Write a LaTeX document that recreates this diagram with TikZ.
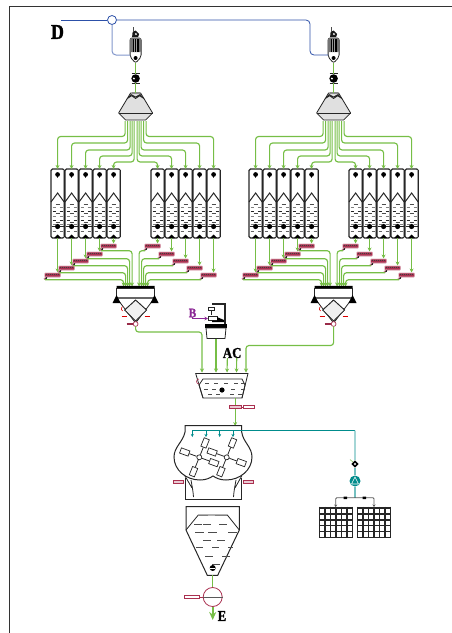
\documentclass[tikz,border=0pt]{standalone}
\usepackage{fontspec}
\newfontfamily\tagfont[FakeStretch=0.85,FakeBold=1.4]{Liberation Serif}
\usetikzlibrary{arrows.meta}
\definecolor{feedgreen}{RGB}{118,190,70}
\definecolor{trapred}{RGB}{170,48,80}
\definecolor{wash}{RGB}{0,140,140}
\definecolor{airblue}{RGB}{44,80,168}
\definecolor{reagent}{RGB}{140,40,150}
\tikzset{
  feed/.style={draw=feedgreen,line width=1.15pt,rounded corners=3pt},
  feedtip/.style={feed,-{Stealth[length=4pt,width=4pt]}},
  washline/.style={draw=wash,line width=1pt},
  washtip/.style={washline,-{Stealth[length=3pt,width=3pt]}},
  vessel/.style={draw=black!85,line width=0.8pt},
  liquid/.style={draw=black!70,line width=0.8pt},
  redbox/.style={draw=trapred,fill=trapred!25,line width=0.7pt,inner sep=0pt},
  paddle/.style={draw=black!85,fill=white,line width=0.7pt,minimum width=9pt,minimum height=5.5pt,inner sep=0pt},
  hub/.style={draw=black!85,fill=white,circle,minimum size=5pt,inner sep=0pt,line width=0.7pt},
  tag/.style={font=\tagfont\bfseries\fontsize{15}{15}\selectfont,inner sep=0pt},
  drum/.pic={
    \draw[vessel,line width=1.3pt,rounded corners=1.5pt] (-6.6,0) rectangle (6.6,69);
    \draw[black!35,line width=0.7pt] (5.3,1) -- (5.3,68);
    \draw[black!70,line width=0.5pt] (0,5.5) -- (0,9);
    \fill (0,5.5) circle (2.4);
    \draw[vessel,line width=1pt] (-6.6,33) -- (0,24) -- (6.6,33);
    \foreach \y/\c in {38/50,42/85,47/50,51/85,55/50,62/60}
      \draw[black!\c,line width=0.8pt] (-5,\y) -- (-2,\y) (2,\y) -- (5,\y);
    \draw[black!70,line width=0.8pt] (-2,35) -- (2,35) (-2,44.5) -- (2,44.5) (-2,53) -- (2,53);
    \draw[black!85,line width=0.8pt] (-6,57.5) -- (6,57.5);
    \fill (0,57.5) circle (2.6);
    \fill (-3.5,69) -- (0,65.5) -- (3.5,69) -- cycle;
    \coordinate (-top) at (0,0);
    \coordinate (-bottom) at (0,69);
  },
  trap/.pic={
    \fill[trapred!40,rounded corners=1pt] (-13.2,-2.5) rectangle (3.2,2.5);
    \fill[trapred,rounded corners=0.6pt] (-12.5,-1.7) rectangle (2.5,1.7);
    \foreach \x in {-11,-9,...,1} \draw[black!75,line width=0.4pt] (\x,-1.4) -- (\x,0.4);
    \draw[trapred!60,line width=1.8pt] (-10.5,1.9) -- (-13.5,4.2);
    \fill[black!85] (-10.8,1.8) -- (-13,4.4) -- (-10.8,3.8) -- cycle;
    \coordinate (-in) at (0,-2.5);
    \coordinate (-out) at (-12.5,4.7);
  },
  spinner/.pic={
    \draw[vessel,fill=white,rounded corners=2pt] (-5.5,11) -- (-5.5,30) -- (0,36) -- (5.5,30) -- (5.5,11) -- cycle;
    \fill[black!55,rounded corners=1pt] (-5.5,11) rectangle (5.5,25);
    \fill[black] (-3,12) rectangle (3,25);
    \draw[black!40,line width=0.6pt] (-1,12) -- (-1,25) (1,12) -- (1,25);
    \fill[black!90] (-3.5,10) -- (-3,5) -- (0,3.5) -- (3.5,7) -- (2.5,10) -- cycle;
    \fill[white] (0.3,7) circle (1.1);
    \draw[black!70,line width=0.7pt] (-1.8,0) -- (-1.8,5);
    \fill (0,31) circle (2);
    \coordinate (-feedin) at (-5.5,28);
    \coordinate (-out) at (0,36);
  },
  splitter/.pic={
    \draw[vessel,fill=black!12,line join=round] (-5,0) -- (5,0) -- (17,20) -- (10,27) -- (-10,27) -- (-17,20) -- cycle;
    \draw[vessel] (-17,20) -- (17,20);
    \draw[vessel,fill=white] (-7.5,5) -- (-4.5,1.5) -- (0,4) -- (4.5,1.5) -- (7.5,5) -- (4,2.8) -- (0,5.5) -- (-4,2.8) -- cycle;
    \fill[black!45] (-4,-1) rectangle (4,0.5);
    \coordinate (-in) at (0,0);
  },
  hopper/.pic={
    \draw[vessel,fill=white] (-19,1) rectangle (19,11);
    \draw[black!60,line width=1.1pt] (-19,11) -- (19,11);
    \draw[vessel] (-19,11) -- (0,36) -- (19,11);
    \draw[vessel,densely dotted,fill=black!6] (0,13) -- (11,23) -- (0,34) -- (-11,23) -- cycle;
    \draw[vessel] (0,13) -- (11,23) -- (0,34) -- (-11,23) -- cycle;
    \fill (-23,16) -- (-19,8) -- (-15,16) -- cycle;
    \fill (23,16) -- (19,8) -- (15,16) -- cycle;
    \draw[red!85!black,line width=1pt] (-14,29) -- (-9,29) (9,29) -- (14,29);
    \draw[red!85!black,line width=0.6pt] (-13,24) arc (120:240:2.5);
    \draw[trapred!90!black,line width=1.1pt] (-9,37) -- (-3,37);
    \draw[trapred,fill=white,line width=0.7pt] (0,37) circle (2.4);
    \coordinate (-out) at (0,39.4);
  },
}
\begin{document}
\begin{tikzpicture}[x=1pt,y=-1pt]
  \useasboundingbox (0,0) rectangle (452,633);
  \draw[black!80,line width=0.9pt] (452,6.5) -- (9.5,6.5) -- (9.5,633);
  \node[font=\tagfont\bfseries\fontsize{21}{21}\selectfont,inner sep=0pt] (dtag) at (57.5,32) {D};

  \foreach \ux/\u in {135.6/l,333.6/r} {
    \pic (spin\u) at (\ux,27) {spinner};
    \node[circle,fill=black,minimum size=8.5pt,inner sep=0pt] (gate\u) at (\ux,78.5) {};
    \fill[white] (\ux-1.7,78.5) circle (1.1);
    \draw[vessel,line width=1pt] (\ux-4,73.5) -- (\ux+4,73.5) (\ux-4,83.5) -- (\ux+4,83.5);
    \pic (split\u) at (\ux,93) {splitter};
    \pic (hop\u) at (\ux,287) {hopper};
    \draw[feed] (spin\u-out) -- (gate\u);
    \draw[feed] (gate\u) -- (split\u-in);
    \foreach \sx/\s in {-1/w,1/e} {
      \begin{scope}[shift={(\ux,0)},xscale=\sx]
        \foreach \d/\o/\h/\q/\p/\i in {78/10.5/136.5/275/12/1,64/8/143/268/10/2,50/5.5/150/261/8/3,36/3.5/156/254/6/4,22/1.5/162/246/3.5/5} {
          \pic (drum\u\s\i) at (\d,169) {drum};
          \pic (trap\u\s\i) at (\d,\q) {trap};
          \coordinate (tap\u\s\i) at (\o,121);
          \coordinate (drop\u\s\i) at (\p,286.5);
          \draw[feedtip] (tap\u\s\i) |- (\d,\h) -- (drum\u\s\i-top);
          \draw[feedtip] (drum\u\s\i-bottom) -- (trap\u\s\i-in);
          \draw[feedtip] (trap\u\s\i-out) -| (drop\u\s\i);
        }
      \end{scope}
    }
  }
  \fill[black] (116.6,285.8) rectangle (154.6,287.8) (314.6,285.8) rectangle (352.6,287.8);

  \coordinate (airstart) at (61,20);
  \coordinate (airend) at (310,20);
  \node[circle,draw=airblue,fill=white,line width=0.8pt,minimum size=9pt,inner sep=0pt] (airtee) at (112,20) {};
  \draw[airblue,line width=0.8pt] (airstart) -- (airtee);
  \draw[airblue,line width=0.8pt,rounded corners=4pt] (airtee) -- (airend) -- (310,55) -- (spinr-feedin);
  \draw[airblue!60,line width=1pt,rounded corners=4pt] (airtee) |- (spinl-feedin);

  % stock tank and dosing
  \draw[vessel,fill=white] (195.7,373.5) -- (248,373.5) -- (242,398) -- (203,398) -- cycle;
  \draw[vessel] (199,385) -- (203,379) -- (242,379) -- (245,385) -- (242,398);
  \draw[vessel] (199,385) -- (203,398);
  \foreach \x/\y in {205/383,214/383,224/383,234/383,241/383,204/389,212/389,231/389,241/389,208/394,216/394,230/394,238/394}
    \draw[liquid] (\x,\y) -- (\x+4,\y);
  \fill (222,390) circle (2.6);
  \draw[trapred,line width=0.6pt] (199,384) arc (90:270:2.5);
  \coordinate (tankw) at (202,372.5);
  \coordinate (tankm) at (216,372.5);
  \coordinate (tanka) at (227,372.5);
  \coordinate (tankc) at (236.5,372.5);
  \coordinate (tanke) at (246,372.5);
  \node[tag] (atag) at (227.5,353) {A};
  \node[tag] (ctag) at (236.8,353) {C};
  \draw[feedtip] (hopl-out) |- (150,332) -| (tankw);
  \draw[feedtip] (hopr-out) |- (246,345.5) -- (tanke);
  \draw[feedtip] (atag) -- (tanka);
  \draw[feedtip] (ctag) -- (tankc);

  \fill (205,323.5) rectangle (227,328);
  \draw[vessel,fill=white] (206,328) -- (226,328) -- (225,338.5) -- (207,338.5) -- cycle;
  \coordinate (dosebottom) at (216,338.5);
  \draw[feedtip] (dosebottom) -- (tankm);
  \draw[vessel,line width=1.1pt] (212,304) -- (225,304) -- (225,324);
  \draw[vessel,line width=1pt,fill=white] (208,307.5) rectangle (214,310.5);
  \draw[vessel] (211,310.5) -- (211,315);
  \draw[vessel,fill=white] (208,316) rectangle (217,320);
  \fill (217,317) -- (224,320) -- (224,322) -- (212,322) -- (212,320.5) -- (217,320.5) -- cycle;
  \node[font=\tagfont\bfseries\fontsize{13}{13}\selectfont,text=reagent,inner sep=0pt] (btag) at (192.5,313) {B};
  \coordinate (dosein) at (208,318.5);
  \draw[reagent,line width=1.1pt,-{Stealth[length=3.5pt,width=3.5pt]}] (btag.south) |- (dosein);

  % filter
  \node[redbox,minimum width=12.5pt,minimum height=3.5pt] (draina) at (235.2,407) {};
  \node[redbox,fill=white,minimum width=11pt,minimum height=3pt] (drainb) at (248.5,407) {};
  \draw[trapred,line width=0.6pt] (draina) -- (drainb);
  \coordinate (tankout) at (235.2,398);
  \coordinate (filterin) at (235.2,426);
  \draw[feed] (tankout) -- (draina);
  \draw[feedtip] (draina) -- (filterin);
  \draw[vessel,line width=1pt] (185,425.7) -- (241.7,425.7) -- (241.7,432) .. controls (243,442) and (252,447) .. (252,457) .. controls (252,470) and (240,480) .. (226,480) .. controls (220,480) and (216,478) .. (213,476) .. controls (210,478) and (206,480) .. (200,480) .. controls (186,480) and (174,470) .. (174,457) .. controls (174,447) and (183,442) .. (185,432) -- cycle;
  \draw[vessel,line width=1pt] (185,478) -- (185,499.5) -- (241.7,499.5) -- (241.7,478);
  \draw[vessel] (191,480) .. controls (192,486) and (193,490) .. (193.5,497) (185,476) -- (192,488);
  \draw[vessel] (236,480) .. controls (235,486) and (234,490) .. (233.5,497) (241.7,476) -- (235,488);
  \foreach \hx/\h in {199.3/l,226.7/r} {
    \begin{scope}[shift={(\hx,457.3)}]
      \node[hub] (hub\h) at (0,0) {};
      \foreach \a/\n in {-68/a,20/b,112/c,200/d} {
        \node[paddle,rotate=-\a] (pad\h\n) at (\a:15.5) {};
        \draw[vessel] (hub\h) -- (pad\h\n);
      }
    \end{scope}
  }
  \node[redbox,minimum width=10pt,minimum height=3.5pt] (sidel) at (178,481.7) {};
  \node[redbox,minimum width=10pt,minimum height=3.5pt] (sider) at (248,481.7) {};

  % wash water
  \coordinate (spraystart) at (192.3,430.7);
  \coordinate (washcorner) at (355,430.7);
  \node[fill=black,minimum width=5pt,minimum height=5pt,inner sep=0pt,rotate=45] (washgate) at (355,464) {};
  \node[circle,fill=wash,minimum size=11pt,inner sep=0pt] (washpump) at (355,481) {};
  \coordinate (rackmid) at (355,497.7);
  \coordinate (rackl) at (335.7,507);
  \coordinate (rackr) at (374,507);
  \draw[washline] (spraystart) -- (washcorner);
  \draw[wash!55,line width=1.3pt] (washcorner) -- (washgate);
  \draw[wash!55,line width=1.3pt] (washgate) -- (washpump);
  \draw[wash!55,line width=1.3pt] (washpump) -- (rackmid);
  \draw[feedgreen,line width=0.5pt] (washgate) -- (350,459.5);
  \fill[white] (355,464) circle (1.1);
  \draw[white,line width=0.6pt,line join=round] (351.5,484) -- (355,477) -- (358.5,484) -- cycle;
  \foreach \x/\n in {192.3/a,206/b,219.7/c,233/d} {
    \coordinate (spraytop\n) at (\x,430.7);
    \coordinate (spraytip\n) at (\x,437);
    \draw[washtip] (spraytop\n) -- (spraytip\n);
  }
  \draw[black!65,line width=0.9pt,-{Stealth[length=2.5pt,width=3pt]},rounded corners=1pt] (rackmid) -| (rackl);
  \draw[black!65,line width=0.9pt,-{Stealth[length=2.5pt,width=3pt]},rounded corners=1pt] (rackmid) -| (rackr);
  \fill[black] (343.5,496.5) rectangle (347,499) (362.5,496.5) rectangle (366,499);
  \foreach \gx in {319.3,357.3} {
    \foreach \i in {0,1,...,6} \draw[black!85,line width=1.5pt] (\gx+\i*5.55,506.7) -- (\gx+\i*5.55,537.5);
    \foreach \j in {0,1,...,5} \draw[black!85,line width=1.5pt] (\gx-0.5,508+\j*5.9) -- (\gx+33.8,508+\j*5.9);
  }

  % thickener and discharge
  \draw[vessel,line width=1pt] (186,506.7) -- (239.3,506.7) -- (239.3,530) -- (217.7,575.3) -- (207.3,575.3) -- (186,530) -- cycle;
  \draw[vessel] (186,530) -- (198.3,515) -- (227.3,515) -- (239.3,530);
  \draw[black!50,line width=1pt] (198.3,515) -- (208,515) (215,515) -- (227.3,515);
  \foreach \x/\y/\w in {194/524/8,203/524/8,219/524/8,195/532/9,208/532/9,228/532/9,203/540/8,217/540/8,196/547/7,212/547/7,228/547/5,205/556/8,222/556/8,212/564/8}
    \draw[liquid] (\x,\y) -- (\x+\w,\y);
  \fill (212.7,568) circle (3);
  \draw[white,line width=0.5pt] (210.2,568) -- (215.2,568);
  \node[circle,draw=trapred,fill=white,line width=0.8pt,minimum size=19pt,inner sep=0pt] (dumppump) at (212.7,597) {};
  \draw[black!65,line width=0.8pt] (dumppump.west) -- (dumppump.east);
  \node[redbox,fill=white,minimum width=15pt,minimum height=3.5pt] (dumpbox) at (191.7,597) {};
  \draw[trapred,line width=0.7pt] (dumpbox) -- (dumppump);
  \coordinate (thickout) at (212.7,575.3);
  \coordinate (dischargetip) at (212.7,620);
  \draw[feed] (thickout) -- (dumppump);
  \draw[feedgreen,line width=1.6pt,-{Stealth[length=8pt,width=7pt]}] (dumppump.south) -- (dischargetip);
  \node[tag] (etag) at (222,616) {E};
\end{tikzpicture}
\end{document}
